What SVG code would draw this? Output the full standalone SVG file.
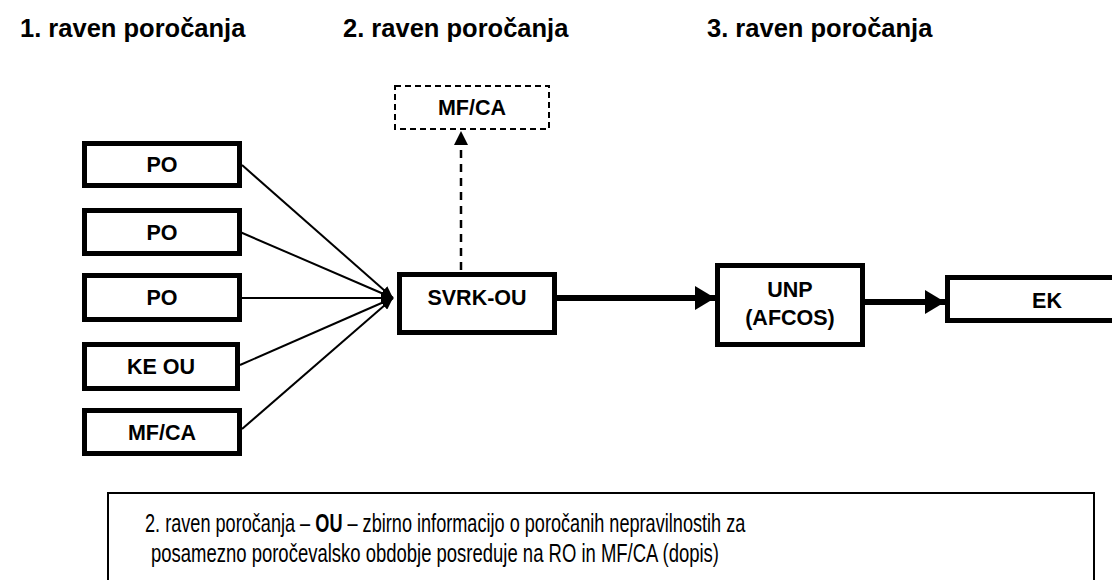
<svg xmlns="http://www.w3.org/2000/svg" width="1112" height="580" viewBox="0 0 1112 580">
<style>
  .title { font-family: "Liberation Sans", Arial, sans-serif; font-weight: bold; font-size: 25.5px; fill: #000; }
  .lbl { font-family: "Liberation Sans", Arial, sans-serif; font-weight: bold; font-size: 21.5px; fill: #000; text-anchor: middle; }
  .box { fill: #fff; stroke: #000; stroke-width: 5; }
  .dbox { fill: #fff; stroke: #000; stroke-width: 2; stroke-dasharray: 6 4; }
  .thin { stroke: #000; stroke-width: 2; fill: none; }
  .thick { stroke: #000; stroke-width: 6; fill: none; }
  .note { font-family: "Liberation Sans", Arial, sans-serif; font-size: 25px; fill: #000; }
</style>
<defs>
  <marker id="ah" markerWidth="12" markerHeight="10" refX="12" refY="5" orient="auto" markerUnits="userSpaceOnUse">
    <path d="M0,0 L12,5 L0,10 Z" fill="#000"/>
  </marker>
  <marker id="ahBig" markerWidth="20" markerHeight="24" refX="20" refY="12" orient="auto" markerUnits="userSpaceOnUse">
    <path d="M0,0 L20,12 L0,24 Z" fill="#000"/>
  </marker>
  <marker id="ahDash" markerWidth="14" markerHeight="14" refX="14" refY="7" orient="auto" markerUnits="userSpaceOnUse">
    <path d="M0,0 L14,7 L0,14 Z" fill="#000"/>
  </marker>
</defs>

<g id="titles">
  <text class="title" x="20" y="37">1. raven poročanja</text>
  <text class="title" x="343" y="37">2. raven poročanja</text>
  <text class="title" x="707" y="37">3. raven poročanja</text>
</g>

<g id="connectors">
  <line class="thin" x1="242" y1="165" x2="393" y2="298" marker-end="url(#ah)"/>
  <line class="thin" x1="240" y1="232" x2="393" y2="298" marker-end="url(#ah)"/>
  <line class="thin" x1="242" y1="298" x2="393" y2="298" marker-end="url(#ah)"/>
  <line class="thin" x1="240" y1="365" x2="393" y2="298" marker-end="url(#ah)"/>
  <line class="thin" x1="242" y1="429" x2="393" y2="298" marker-end="url(#ah)"/>
  <line stroke="#000" stroke-width="2.5" stroke-dasharray="8 6" x1="461" y1="270" x2="461" y2="131" marker-end="url(#ahDash)"/>
  <line class="thick" x1="557" y1="298" x2="715" y2="298" marker-end="url(#ahBig)"/>
  <line class="thick" x1="865" y1="302" x2="945" y2="302" marker-end="url(#ahBig)"/>
</g>

<g id="po1"><rect class="box" x="84.5" y="143.5" width="155" height="42"/><text class="lbl" x="162" y="172">PO</text></g>
<g id="po2"><rect class="box" x="84.5" y="210.5" width="155" height="43"/><text class="lbl" x="162" y="240">PO</text></g>
<g id="po3"><rect class="box" x="84.5" y="275.5" width="155" height="44"/><text class="lbl" x="162" y="305">PO</text></g>
<g id="keou"><rect class="box" x="84.5" y="344.5" width="153" height="44"/><text class="lbl" x="161" y="374">KE OU</text></g>
<g id="mfca1"><rect class="box" x="84.5" y="410.5" width="155" height="43"/><text class="lbl" x="162" y="440">MF/CA</text></g>

<g id="mfca2"><rect class="dbox" x="395" y="86" width="154" height="43"/><text class="lbl" x="472" y="115">MF/CA</text></g>

<g id="svrk"><rect class="box" x="399.5" y="274.5" width="155" height="58"/><text class="lbl" x="477" y="305">SVRK-OU</text></g>

<g id="unp"><rect class="box" x="717.5" y="265.5" width="145" height="79"/><text class="lbl" x="790" y="297">UNP</text><text class="lbl" x="790" y="325">(AFCOS)</text></g>

<g id="ek"><rect class="box" x="947.5" y="277.5" width="170" height="43"/><text class="lbl" x="1047" y="308">EK</text></g>

<g id="note">
  <rect x="108" y="493" width="986" height="120" fill="#fff" stroke="#000" stroke-width="2"/>
  <g transform="translate(145,0) scale(0.725,1)">
    <text class="note" x="0" y="532">2. raven poročanja –</text>
    <text class="note" x="234.9" y="532" font-weight="bold">OU</text>
    <text class="note" x="279.3" y="532">– zbirno informacijo o poročanih nepravilnostih za</text>
  </g>
  <text class="note" x="151" y="562" textLength="568" lengthAdjust="spacingAndGlyphs">posamezno poročevalsko obdobje posreduje na RO in MF/CA (dopis)</text>
</g>
</svg>
